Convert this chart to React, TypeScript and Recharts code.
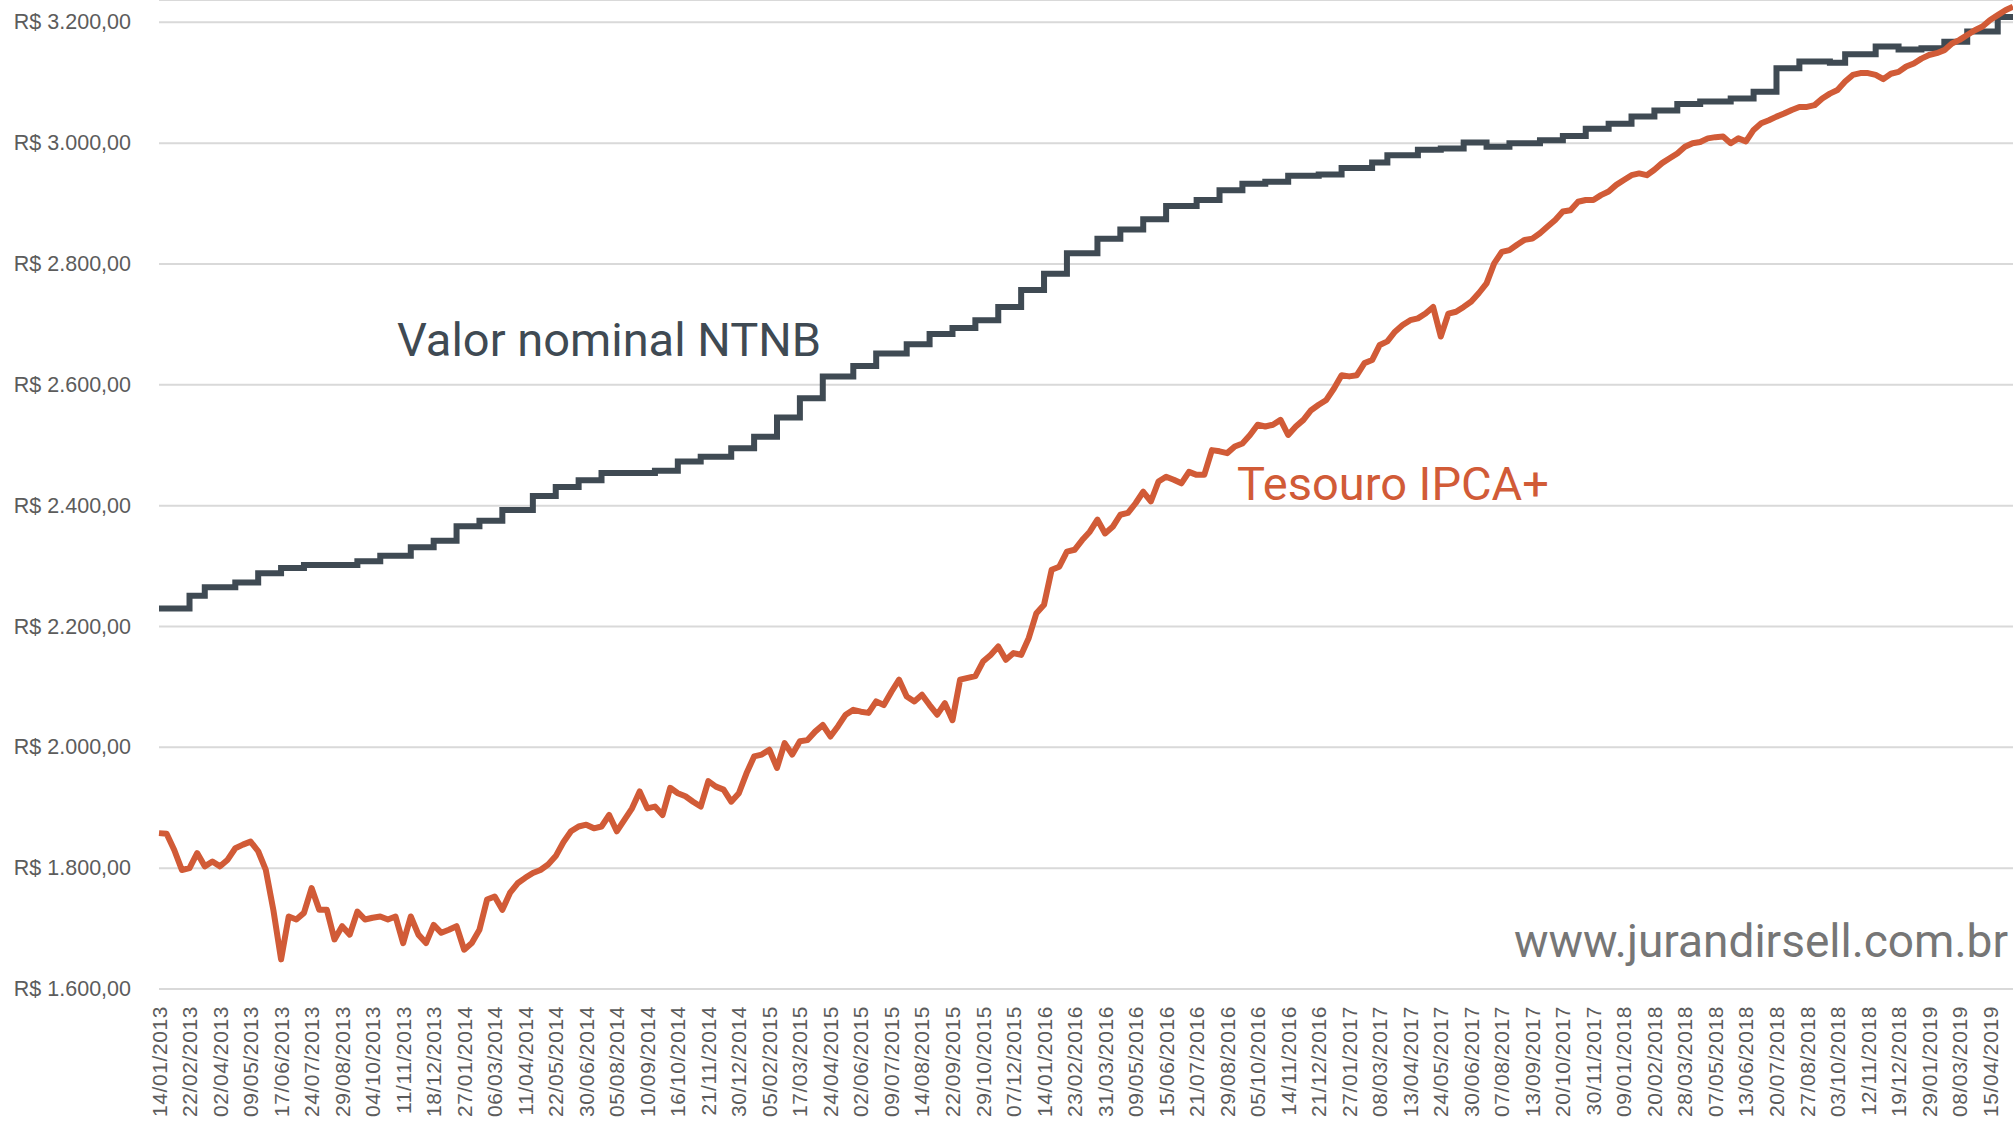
import React from 'react';
import { LineChart, Line, XAxis, YAxis, CartesianGrid } from 'recharts';

// Date labels shown on the category axis (one every ~26 trading days)
const DATES = [
  '14/01/2013', '22/02/2013', '02/04/2013', '09/05/2013', '17/06/2013', '24/07/2013',
  '29/08/2013', '04/10/2013', '11/11/2013', '18/12/2013', '27/01/2014', '06/03/2014',
  '11/04/2014', '22/05/2014', '30/06/2014', '05/08/2014', '10/09/2014', '16/10/2014',
  '21/11/2014', '30/12/2014', '05/02/2015', '17/03/2015', '24/04/2015', '02/06/2015',
  '09/07/2015', '14/08/2015', '22/09/2015', '29/10/2015', '07/12/2015', '14/01/2016',
  '23/02/2016', '31/03/2016', '09/05/2016', '15/06/2016', '21/07/2016', '29/08/2016',
  '05/10/2016', '14/11/2016', '21/12/2016', '27/01/2017', '08/03/2017', '13/04/2017',
  '24/05/2017', '30/06/2017', '07/08/2017', '13/09/2017', '20/10/2017', '30/11/2017',
  '09/01/2018', '20/02/2018', '28/03/2018', '07/05/2018', '13/06/2018', '20/07/2018',
  '27/08/2018', '03/10/2018', '12/11/2018', '19/12/2018', '29/01/2019', '08/03/2019',
  '15/04/2019',
];

// values are sampled 4 times between two date labels
const SUB = 4;

const Y_TICKS = [1600, 1800, 2000, 2200, 2400, 2600, 2800, 3000, 3200];

// Valor nominal NTNB (monthly steps)
const NTNB_2013 = [
  2230, 2230, 2230, 2230, 2251, 2251, 2265, 2265, 2265, 2265,
  2273, 2273, 2273, 2288, 2288, 2288, 2297, 2297, 2297, 2302,
  2302, 2302, 2302, 2302, 2302, 2302, 2308, 2308, 2308, 2317,
  2317, 2317, 2317, 2331, 2331, 2331, 2342, 2342, 2342, 2366,
  2366, 2366, 2375, 2375, 2375, 2393, 2393, 2393, 2393, 2416,
  2416, 2416, 2431, 2431, 2431, 2442, 2442, 2442, 2454, 2454,
  2454,
];
const NTNB_2014 = [
  2454, 2454, 2454, 2454, 2458, 2458, 2458, 2473, 2473, 2473,
  2481, 2481, 2481, 2481, 2495, 2495, 2495, 2514, 2514, 2514,
  2546, 2546, 2546, 2578, 2578, 2578, 2614, 2614, 2614, 2614,
  2631, 2631, 2631, 2652, 2652, 2652, 2652, 2667, 2667, 2667,
  2684, 2684, 2684, 2694, 2694, 2694, 2707, 2707, 2707, 2729,
  2729, 2729, 2757, 2757, 2757, 2784, 2784, 2784, 2818, 2818,
  2818,
];
const NTNB_2016 = [
  2818, 2842, 2842, 2842, 2857, 2857, 2857, 2874, 2874, 2874,
  2896, 2896, 2896, 2896, 2906, 2906, 2906, 2922, 2922, 2922,
  2933, 2933, 2933, 2936, 2936, 2936, 2946, 2946, 2946, 2946,
  2948, 2948, 2948, 2959, 2959, 2959, 2959, 2968, 2968, 2980,
  2980, 2980, 2980, 2989, 2989, 2989, 2991, 2991, 2991, 3001,
  3001, 3001, 2994, 2994, 2994, 3000, 3000, 3000, 3000, 3005,
  3005,
];
const NTNB_2018 = [
  3005, 3012, 3012, 3012, 3024, 3024, 3024, 3032, 3032, 3032,
  3044, 3044, 3044, 3054, 3054, 3054, 3065, 3065, 3065, 3069,
  3069, 3069, 3069, 3074, 3074, 3074, 3085, 3085, 3085, 3124,
  3124, 3124, 3135, 3135, 3135, 3135, 3133, 3133, 3147, 3147,
  3147, 3147, 3160, 3160, 3160, 3155, 3155, 3155, 3157, 3157,
  3157, 3168, 3168, 3168, 3185, 3185, 3185, 3185, 3209, 3209,
  3209,
];

// Tesouro IPCA+ market price
const IPCA_2013 = [
  1858, 1857, 1830, 1797, 1800, 1825, 1803, 1811, 1803, 1814,
  1833, 1839, 1844, 1828, 1797, 1730, 1649, 1720, 1715, 1726,
  1767, 1731, 1731, 1682, 1704, 1690, 1728, 1715, 1718, 1720,
  1715, 1720, 1676, 1720, 1690, 1676, 1706, 1693, 1698, 1704,
  1665, 1676, 1698, 1748, 1753, 1731, 1759, 1775, 1784, 1792,
  1797, 1806, 1820, 1843, 1861, 1869, 1872, 1866, 1869, 1888,
  1861,
];
const IPCA_2014 = [
  1880, 1899, 1927, 1899, 1902, 1888, 1933, 1924, 1919, 1910,
  1902, 1944, 1935, 1930, 1910, 1924, 1957, 1985, 1988, 1996,
  1966, 2007, 1988, 2010, 2012, 2026, 2037, 2018, 2035, 2054,
  2062, 2059, 2057, 2076, 2070, 2092, 2112, 2084, 2076, 2087,
  2070, 2054, 2073, 2045, 2112, 2115, 2118, 2142, 2153, 2167,
  2145, 2156, 2153, 2181, 2222, 2236, 2294, 2299, 2324, 2327,
  2343,
];
const IPCA_2016 = [
  2357, 2377, 2354, 2365, 2385, 2388, 2404, 2423, 2407, 2440,
  2448, 2443, 2437, 2456, 2451, 2451, 2492, 2490, 2487, 2498,
  2503, 2517, 2534, 2531, 2534, 2542, 2517, 2531, 2542, 2558,
  2567, 2575, 2594, 2616, 2614, 2616, 2636, 2641, 2666, 2672,
  2688, 2699, 2707, 2710, 2718, 2729, 2680, 2718, 2721, 2729,
  2738, 2752, 2768, 2801, 2820, 2823, 2832, 2840, 2842, 2851,
  2862,
];
const IPCA_2018 = [
  2873, 2887, 2889, 2903, 2906, 2906, 2914, 2920, 2931, 2939,
  2947, 2950, 2947, 2956, 2967, 2975, 2983, 2994, 3000, 3002,
  3008, 3010, 3011, 3000, 3008, 3003, 3022, 3033, 3038, 3044,
  3049, 3055, 3060, 3060, 3063, 3074, 3082, 3088, 3102, 3113,
  3116, 3116, 3113, 3106, 3115, 3118, 3127, 3132, 3140, 3146,
  3149, 3154, 3165, 3171, 3179, 3187, 3193, 3204, 3212, 3220,
  3226,
];

const NTNB = [...NTNB_2013, ...NTNB_2014, ...NTNB_2016, ...NTNB_2018];
const IPCA = [...IPCA_2013, ...IPCA_2014, ...IPCA_2016, ...IPCA_2018];

const data = IPCA.map((v, k) => ({ t: k / SUB, ipca: v, ntnb: NTNB[k] }));
const X_TICKS = DATES.map((_, i) => i);

const DARK = '#3f4a53';
const ORANGE = '#d15b37';
const TICK_COLOR = '#5c5c5c';
const TICK_FONT = "'Liberation Sans', Arial, sans-serif";
const LABEL_FONT = "Roboto, 'Noto Sans', sans-serif";

const brl = (v: number) =>
  `R$ ${Math.floor(v / 1000)}.${String(v % 1000).padStart(3, '0')},00`;

const MoneyTick = ({ x, y, payload }: any) => (
  <text x={x} y={y} textAnchor="end" dominantBaseline="central" fill={TICK_COLOR} fontSize={21.5} fontFamily={TICK_FONT}>
    {brl(payload.value)}
  </text>
);

const DateTick = ({ x, y, payload }: any) => (
  <text
    x={x}
    y={y}
    transform={`rotate(-90, ${x}, ${y})`}
    textAnchor="end"
    dominantBaseline="central"
    fill={TICK_COLOR}
    fontSize={21}
    letterSpacing={0.6}
    fontFamily={TICK_FONT}
  >
    {DATES[payload.value]}
  </text>
);

const W = 2013;
const H = 1125;

export default function App() {
  return (
    <div style={{ position: 'absolute', left: 0, top: 0, width: W, height: H, background: '#fff' }}>
      <LineChart width={W} height={H} data={data} margin={{ top: 0, right: 0, bottom: 0, left: 0 }}>
        <CartesianGrid vertical={false} stroke="#d9d9d9" strokeWidth={2} />
        <XAxis
          type="number"
          dataKey="t"
          domain={[0, (IPCA.length - 1) / SUB]}
          ticks={X_TICKS}
          interval={0}
          height={136}
          tick={<DateTick />}
          tickLine={false}
          tickSize={0}
          tickMargin={17}
          axisLine={{ stroke: '#d9d9d9', strokeWidth: 2 }}
        />
        <YAxis
          type="number"
          domain={[1600, 3237]}
          ticks={Y_TICKS}
          width={159}
          axisLine={false}
          tickLine={false}
          tickSize={0}
          tickMargin={28}
          tick={<MoneyTick />}
        />
        <Line
          type="stepAfter"
          dataKey="ntnb"
          stroke={DARK}
          strokeWidth={6}
          dot={false}
          isAnimationActive={false}
        />
        <Line
          type="linear"
          dataKey="ipca"
          stroke={ORANGE}
          strokeWidth={6}
          strokeLinejoin="round"
          dot={false}
          isAnimationActive={false}
        />
      </LineChart>
      <svg width={W} height={H} style={{ position: 'absolute', left: 0, top: 0, pointerEvents: 'none' }}>
        <text x={397} y={356} fontSize={47} fill={DARK} fontFamily={LABEL_FONT}>
          Valor nominal NTNB
        </text>
        <text x={1237} y={500} fontSize={47} fill={ORANGE} fontFamily={LABEL_FONT}>
          Tesouro IPCA+
        </text>
        <text x={2008} y={957} textAnchor="end" fontSize={46} fill="#767676" fontFamily={LABEL_FONT}>
          www.jurandirsell.com.br
        </text>
      </svg>
    </div>
  );
}
